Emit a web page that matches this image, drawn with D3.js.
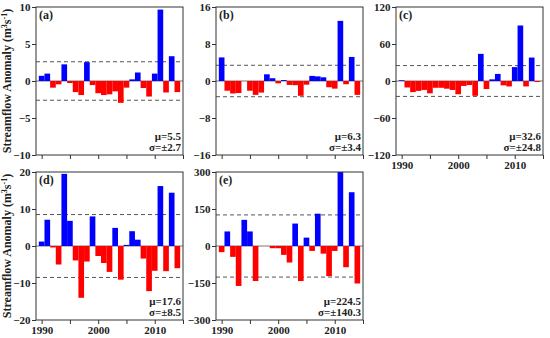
<!DOCTYPE html>
<html>
<head>
<meta charset="utf-8">
<script src="https://cdn.jsdelivr.net/npm/d3@7"></script>
<style>
  body { margin: 0; background: #fff; }
  text { font-family: "Liberation Serif", "Times New Roman", serif; font-weight: bold; fill: #222; }
</style>
</head>
<body>
<svg id="chart" width="550" height="338"></svg>
<script>
// years shown on every panel (one bar per year)
var years = [1990, 1991, 1992, 1993, 1994, 1995, 1996, 1997, 1998, 1999,
             2000, 2001, 2002, 2003, 2004, 2005, 2006, 2007, 2008, 2009,
             2010, 2011, 2012, 2013, 2014];

// streamflow anomaly per panel (null = no bar)
var seriesA = [0.7, 1.0, -0.9, -0.45, 2.25, -0.27, -1.5, -1.9, 2.55, -0.55,
               -1.65, -1.9, -1.8, -1.4, -2.95, -0.9, 0.22, 1.15, -0.95, -2.1,
               1.0, 9.65, -1.55, 3.35, -1.5];
var seriesB = [5.1, -2.1, -2.7, -2.6, 0, -2.1, -3.0, -2.5, 1.45, 0.6,
               -0.5, 0.2, -0.85, -0.9, -3.2, -0.8, 1.1, 1.0, 0.8, -1.35,
               -1.65, 13.0, -0.7, 5.2, -3.0];
var seriesC = [1.2, -10.5, -18, -16, -14.5, -20, -11, -11, -12.5, -14.5,
               -21.5, -8, -6.5, -24, 44, -13, 2.7, 11.5, -7, -8.8,
               22.5, 90, -8.8, 38, -1.6];
var seriesD = [1.2, 7.1, -0.4, -5.0, 19.5, 6.8, -3.9, -14.0, -4.2, 8.0,
               -2.7, -4.6, -7.0, 4.9, -9.1, 0.3, 4.0, 1.7, -3.4, -12.2,
               -6.7, 16.2, -6.8, 14.4, -6.0];
var seriesE = [-25, 59, -44, -162, 106, 59, -142, null, null, -9,
               -9, -36, -67, 91, -142, 34, -20, 131, -31, -122,
               -20, 300, -86, 218, -152];

var panelLabels = ["(a)", "(b)", "(c)", "(d)", "(e)"];
var axisMax = [10, 16, 120, 20, 300];
var bands = [2.6, 3.4, 25, 8.5, 126];   // dashed reference lines (±)
var means = ["5.5", "6.3", "32.6", "17.6", "224.5"];
var sigmas = ["2.7", "3.4", "24.8", "8.5", "140.3"];
var xTicks = [1990, 1995, 2000, 2005, 2010, 2015];
var xTickLabels = [1990, 2000, 2010];

var allSeries = [seriesA, seriesB, seriesC, seriesD, seriesE];
var panelCol = [0, 1, 2, 0, 1];
var panelRow = [0, 0, 0, 1, 1];
var showYears = [false, false, true, true, true];

var colLeft = [36, 216, 396];
var rowTop = [7, 172];
var width = 147, height = 148;

var svg = d3.select("#chart");

panelLabels.forEach(function(label, k) {
  var g = svg.append("g")
    .attr("transform", "translate(" + colLeft[panelCol[k]] + "," + rowTop[panelRow[k]] + ")");

  var x = d3.scaleLinear().domain([1989, 2015]).range([0, width]);
  var y = d3.scaleLinear().domain([-axisMax[k], axisMax[k]]).range([height, 0]);
  var bw = x(1991) - x(1990);

  // zero line and the dashed ± lines sit under the bars
  g.append("line")
    .attr("x1", 0).attr("x2", width)
    .attr("y1", y(0)).attr("y2", y(0))
    .style("stroke", "#777").style("stroke-width", 1);

  g.selectAll(".band")
    .data([bands[k], -bands[k]])
    .enter()
    .append("line")
      .attr("class", "band")
      .attr("x1", 0).attr("x2", width)
      .attr("y1", function(d) { return y(d); })
      .attr("y2", function(d) { return y(d); })
      .style("stroke", "#555")
      .style("stroke-width", 1)
      .style("stroke-dasharray", "4,3");

  var rows = years.map(function(yr, i) { return { year: yr, v: allSeries[k][i] }; })
    .filter(function(d) { return d.v !== null; });

  g.selectAll(".bar")
    .data(rows)
    .enter()
    .append("rect")
      .attr("class", "bar")
      .attr("x", function(d) { return x(d.year) - bw / 2; })
      .attr("width", bw)
      .attr("y", function(d) { return y(Math.max(0, d.v)); })
      .attr("height", function(d) { return Math.abs(y(d.v) - y(0)); })
      .style("fill", function(d) { return d.v >= 0 ? "#0000ff" : "#ff0000"; });

  // axes
  var xAxis = g.append("g")
    .attr("transform", "translate(0," + height + ")")
    .call(d3.axisBottom(x).tickValues(xTicks).tickSize(4).tickPadding(2)
      .tickFormat(function(d) { return showYears[k] && xTickLabels.indexOf(d) >= 0 ? d : ""; }));

  var yAxis = g.append("g")
    .call(d3.axisLeft(y)
      .tickValues([-axisMax[k], -axisMax[k] / 2, 0, axisMax[k] / 2, axisMax[k]])
      .tickSize(4).tickPadding(1.5));

  [xAxis, yAxis].forEach(function(a) {
    a.select(".domain").remove();
    a.selectAll("line").style("stroke", "#333");
    a.selectAll("text").style("font-size", "11px").style("fill", "#222")
      .style("font-family", "'Liberation Serif', serif").style("font-weight", "bold");
  });

  // frame
  g.append("rect")
    .attr("width", width).attr("height", height)
    .style("fill", "none").style("stroke", "#333").style("stroke-width", 1);

  g.append("text")
    .attr("x", 3).attr("y", 12)
    .style("font-size", "12px")
    .text(label);

  g.append("text")
    .attr("x", width - 2).attr("y", height - 15)
    .attr("text-anchor", "end")
    .style("font-size", "11px")
    .text("\u03bc=" + means[k]);

  g.append("text")
    .attr("x", width - 2).attr("y", height - 4)
    .attr("text-anchor", "end")
    .style("font-size", "11px")
    .text("\u03c3=\u00b1" + sigmas[k]);
});

// y axis titles, one per row
rowTop.forEach(function(top) {
  var t = svg.append("text")
    .attr("transform", "translate(11," + (top + height / 2) + ") rotate(-90)")
    .attr("text-anchor", "middle")
    .style("font-size", "12px");
  t.append("tspan").text("Streamflow Anomaly (m");
  t.append("tspan").attr("dy", -4).style("font-size", "8px").text("3");
  t.append("tspan").attr("dy", 4).text("s");
  t.append("tspan").attr("dy", -4).style("font-size", "8px").text("-1");
  t.append("tspan").attr("dy", 4).text(")");
});
</script>
</body>
</html>
